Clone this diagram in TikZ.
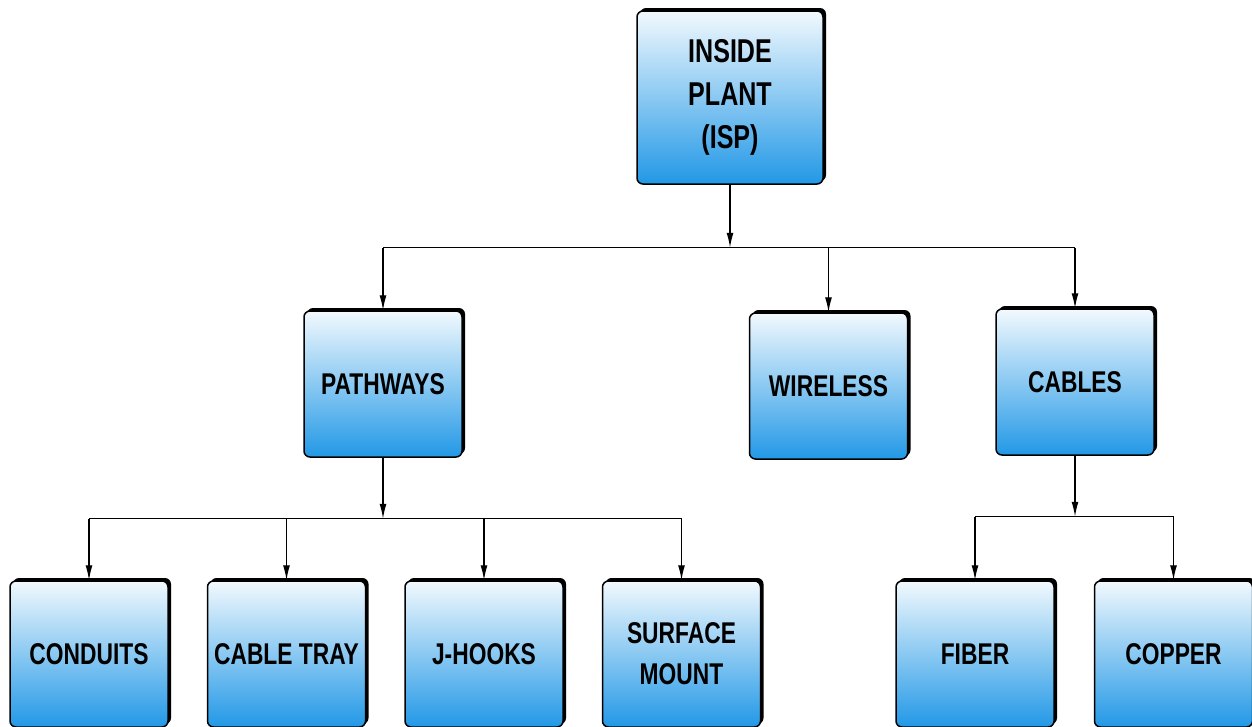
\documentclass[tikz,border=0pt]{standalone}
\usepackage{fontspec}
\setmainfont{Liberation Sans}[FakeStretch=0.76]
\usetikzlibrary{arrows.meta, positioning, shadows}
\definecolor{boxtop}{RGB}{242,249,254}
\definecolor{boxmid}{RGB}{118,190,238}
\definecolor{boxbot}{RGB}{34,152,230}

\begin{document}
\begin{tikzpicture}[
        x=1pt, y=1pt,
        box/.style={rectangle, draw, line width=1.5pt, rounded corners=6pt, minimum width=158pt, minimum height=146pt, inner sep=2pt, align=center, top color=boxtop, middle color=boxmid, bottom color=boxbot, drop shadow={shadow xshift=3pt, shadow yshift=3pt, opacity=1, fill=black}, font=\fontsize{30}{41}\selectfont\bfseries},
        arrow/.style={-{Latex[length=15pt,width=7pt]}, line width=1.4pt},
        line/.style={line width=1.4pt},
        node distance=38pt
    ]
        \useasboundingbox (0,0) rectangle (1252,-726);

        % Top
        \node[box, minimum width=186pt, minimum height=173pt, font=\fontsize{33}{43}\selectfont\bfseries] (isp) at (730,-97.5) {INSIDE\\PLANT\\(ISP)};

        % Middle row
        \node[box] (pathways) at (383,-384) {PATHWAYS};
        \node[box, right=286pt of pathways, yshift=-2pt] (wireless) {WIRELESS};
        \node[box, right=87pt of wireless, yshift=4pt] (cables) {CABLES};

        % Bottom row
        \node[box] (conduits) at (89,-654) {CONDUITS};
        \node[box, right=of conduits] (tray) {CABLE TRAY};
        \node[box, right=of tray] (jhooks) {J-HOOKS};
        \node[box, right=of jhooks] (surface) {SURFACE\\MOUNT};
        \node[box] (fiber) at (975,-654) {FIBER};
        \node[box, right=39pt of fiber] (copper) {COPPER};

        % Arrows
        \coordinate (split1) at ([yshift=-63pt]isp.south);
        \draw[arrow] (isp) -- (split1);
        \draw[line] (pathways.north |- split1) -- (cables.north |- split1);
        \foreach \n in {pathways, wireless, cables}
            \draw[arrow] (\n.north |- split1) -- (\n);

        \coordinate (split2) at ([yshift=-61pt]pathways.south);
        \draw[arrow] (pathways) -- (split2);
        \draw[line] (conduits.north |- split2) -- (surface.north |- split2);
        \foreach \n in {conduits, tray, jhooks, surface}
            \draw[arrow] (\n.north |- split2) -- (\n);

        \coordinate (split3) at ([yshift=-61pt]cables.south);
        \draw[arrow] (cables) -- (split3);
        \draw[line] (fiber.north |- split3) -- (copper.north |- split3);
        \foreach \n in {fiber, copper}
            \draw[arrow] (\n.north |- split3) -- (\n);
    \end{tikzpicture}
\end{document}
